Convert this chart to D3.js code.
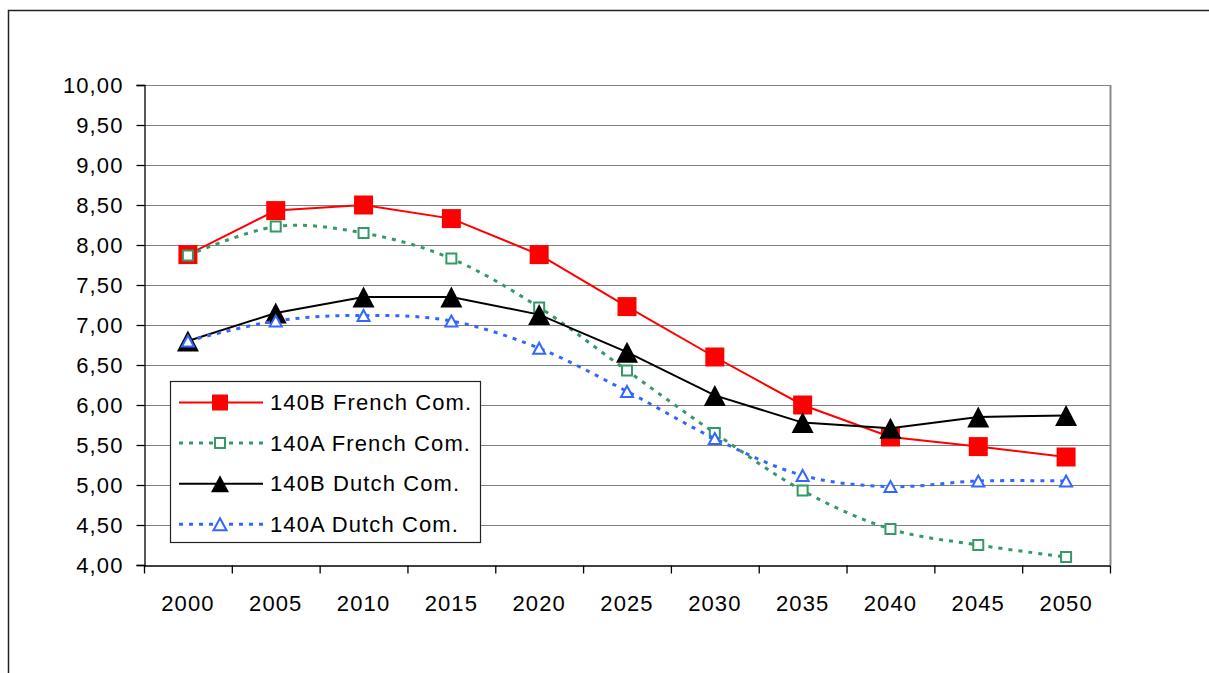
<!DOCTYPE html>
<html>
<head>
<meta charset="utf-8">
<script src="https://cdn.jsdelivr.net/npm/d3@7"></script>
<style>
  html, body { margin: 0; padding: 0; background: #fff; }
  svg { display: block; }
  text { font-family: "Liberation Sans", Arial, sans-serif; font-size: 22px; letter-spacing: 1.1px; fill: #000; }
</style>
</head>
<body>
<script>
// ---- data ----
const years = ["2000","2005","2010","2015","2020","2025","2030","2035","2040","2045","2050"];
const french140B = [7.88, 8.43, 8.50, 8.33, 7.88, 7.23, 6.60, 6.00, 5.60, 5.48, 5.35];
const french140A = [7.87, 8.23, 8.15, 7.83, 7.22, 6.43, 5.65, 4.93, 4.45, 4.25, 4.10];
const dutch140B  = [6.80, 7.15, 7.35, 7.35, 7.13, 6.66, 6.12, 5.78, 5.71, 5.85, 5.87];
const dutch140A  = [6.80, 7.05, 7.12, 7.05, 6.71, 6.17, 5.58, 5.12, 4.98, 5.05, 5.05];
const seriesNames = ["140B French Com.", "140A French Com.", "140B Dutch Com.", "140A Dutch Com."];
const yTicks = [4.0, 4.5, 5.0, 5.5, 6.0, 6.5, 7.0, 7.5, 8.0, 8.5, 9.0, 9.5, 10.0];

// ---- layout ----
const W = 1209, H = 673;
const L = 144, R = 1110, T = 85, B = 565;

const svg = d3.select("body").append("svg").attr("width", W).attr("height", H);

const x = d3.scaleBand().domain(years).range([L, R]).padding(0);
const y = d3.scaleLinear().domain([4, 10]).range([B, T]);
const cx = d => x(d) + x.bandwidth() / 2;
const fmt = v => d3.format(".2f")(v).replace(".", ",");

// outer frame (left and top edges visible)
svg.append("path").attr("d", `M8.5,${H} L8.5,10.5 L${W},10.5`)
  .attr("fill", "none").attr("stroke", "#222").attr("stroke-width", 1.5);

// gridlines
svg.append("g").selectAll("line").data(yTicks.filter(v => v > 4)).join("line")
  .attr("x1", L).attr("x2", R)
  .attr("y1", d => Math.round(y(d)) + 0.5).attr("y2", d => Math.round(y(d)) + 0.5)
  .attr("stroke", "#808080").attr("stroke-width", 1.2);

// plot right border
svg.append("line").attr("x1", R + 0.5).attr("x2", R + 0.5).attr("y1", T).attr("y2", B)
  .attr("stroke", "#8a8a8a").attr("stroke-width", 2);

// y axis
const yAxis = d3.axisLeft(y).tickValues(yTicks).tickFormat(fmt).tickSize(8).tickPadding(14);
const gy = svg.append("g").attr("transform", `translate(${L + 0.5},0)`).call(yAxis);
gy.select(".domain").attr("stroke", "#000").attr("stroke-width", 1.3);
gy.selectAll(".tick line").attr("stroke", "#000").attr("stroke-width", 1.3);
gy.selectAll(".tick text").attr("font-size", null).attr("font-family", null)
  .attr("dy", "0.35em").attr("x", -21);

// x axis
const xAxis = d3.axisBottom(x).tickSize(0).tickPadding(0);
const gx = svg.append("g").attr("transform", `translate(0,${B + 0.5})`).call(xAxis);
gx.select(".domain").attr("stroke", "#000").attr("stroke-width", 1.6);
gx.selectAll(".tick text").attr("font-size", null).attr("font-family", null)
  .attr("y", 45).attr("dy", null);
// boundary ticks between categories
const bounds = years.map(d => x(d)).concat([R]);
gx.append("g").selectAll("line").data(bounds).join("line")
  .attr("x1", d => d + 0.5).attr("x2", d => d + 0.5)
  .attr("y1", 0).attr("y2", 8).attr("stroke", "#000").attr("stroke-width", 1.3);
gx.selectAll("text").attr("fill", "#000");

// ---- series ----
const tri = (w, h) => `M0,${-h/2} L${w/2},${h/2} L${-w/2},${h/2} Z`;
const sq = s => `M${-s/2},${-s/2} h${s} v${s} h${-s} Z`;

const series = [
  { name: seriesNames[0], values: french140B, color: "#ff0000", width: 2, dash: null, curve: d3.curveLinear,
    marker: sq(19), mFill: "#ff0000", mStroke: "none", mSW: 0, lMarker: sq(16) },
  { name: seriesNames[1], values: french140A, color: "#339966", width: 3, dash: "4,6", curve: d3.curveCardinal,
    marker: sq(10), mFill: "#fff", mStroke: "#339966", mSW: 2, lMarker: sq(10) },
  { name: seriesNames[2], values: dutch140B, color: "#000000", width: 2, dash: null, curve: d3.curveLinear,
    marker: tri(22, 21), mFill: "#000", mStroke: "none", mSW: 0, lMarker: tri(18, 17) },
  { name: seriesNames[3], values: dutch140A, color: "#3366ff", width: 3, dash: "4,6", curve: d3.curveCardinal,
    marker: tri(12, 11), mFill: "#fff", mStroke: "#3366ff", mSW: 2, lMarker: tri(13, 12) }
];

series.forEach(s => {
  const pts = years.map((yr, i) => [cx(yr), y(s.values[i])]);
  const line = d3.line().curve(s.curve);
  const g = svg.append("g");
  g.append("path").attr("d", line(pts)).attr("fill", "none")
    .attr("stroke", s.color).attr("stroke-width", s.width)
    .attr("stroke-dasharray", s.dash);
  g.selectAll("path.m").data(pts).join("path").attr("class", "m")
    .attr("transform", p => `translate(${p[0]},${p[1]})`)
    .attr("d", s.marker).attr("fill", s.mFill)
    .attr("stroke", s.mStroke).attr("stroke-width", s.mSW);
});

// ---- legend ----
const lg = svg.append("g");
lg.append("rect").attr("x", 170.5).attr("y", 381.5).attr("width", 310).attr("height", 161)
  .attr("fill", "#fff").attr("stroke", "#222").attr("stroke-width", 1.2);
series.forEach((s, i) => {
  const ly = 402.5 + i * 40.6;
  lg.append("line").attr("x1", 179).attr("x2", 263).attr("y1", ly).attr("y2", ly)
    .attr("stroke", s.color).attr("stroke-width", s.width).attr("stroke-dasharray", s.dash);
  lg.append("path").attr("transform", `translate(220,${ly})`).attr("d", s.lMarker)
    .attr("fill", s.mFill).attr("stroke", s.mStroke).attr("stroke-width", s.mSW);
  lg.append("text").attr("x", 270).attr("y", ly + 7.5).text(s.name);
});
</script>
</body>
</html>
